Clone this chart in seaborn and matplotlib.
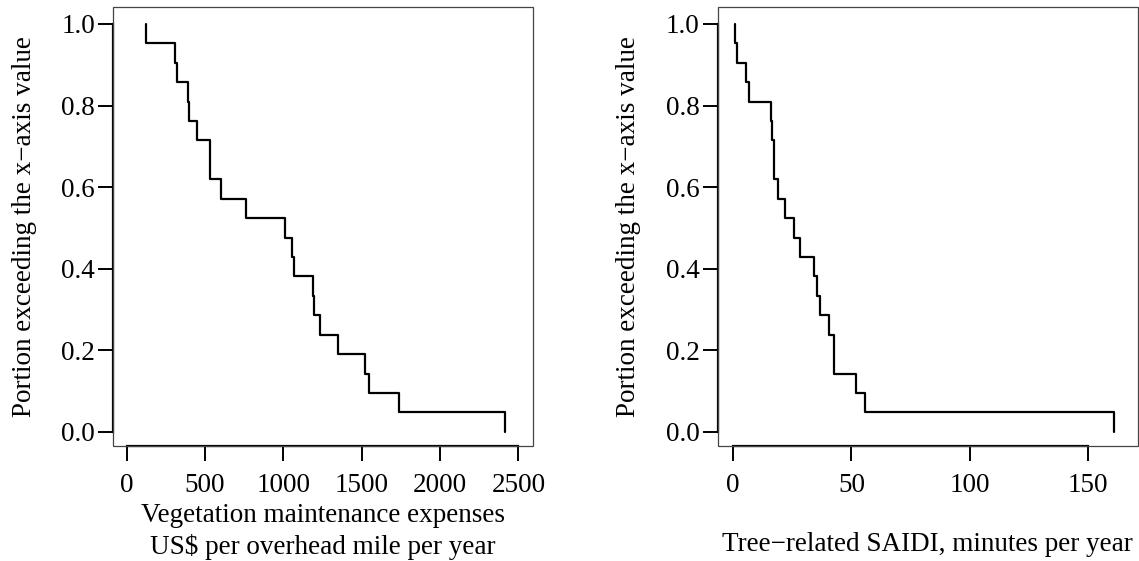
import matplotlib
matplotlib.use("Agg")
import matplotlib.pyplot as plt
import seaborn as sns
import pandas as pd
from matplotlib.patches import Rectangle

# Vegetation maintenance expenses, US$ per overhead mile per year (21 utilities)
expenses = [126, 311, 320, 394, 400, 447, 532, 534, 604, 762, 1011,
            1054, 1068, 1190, 1198, 1234, 1347, 1519, 1549, 1740, 2417]
# Tree-related SAIDI, minutes per year (same 21 utilities)
saidi = [0.7, 1.6, 5.5, 6.6, 16.0, 16.5, 17.3, 17.4, 19.0, 21.9, 25.6,
         28.1, 34.3, 35.3, 36.7, 40.5, 42.5, 42.6, 51.9, 55.8, 160.8]

expense_ticks = [0, 500, 1000, 1500, 2000, 2500]
saidi_ticks = [0, 50, 100, 150]
y_ticks = [0.0, 0.2, 0.4, 0.6, 0.8, 1.0]

ylabel = "Portion exceeding the x\u2212axis value"
xlabel_left = "Vegetation maintenance expenses\nUS$ per overhead mile per year"
xlabel_right = "Tree\u2212related SAIDI, minutes per year"

FS = 19.5

sns.set_theme(style="ticks")
plt.rcParams["font.family"] = ["Liberation Serif", "DejaVu Serif"]
plt.rcParams["font.size"] = FS
plt.rcParams["text.color"] = "black"
plt.rcParams["axes.labelcolor"] = "black"

fig = plt.figure(figsize=(11.39, 5.61), dpi=100)
ax1 = fig.add_axes([0.0992, 0.2041, 0.369, 0.783])
ax2 = fig.add_axes([0.6301, 0.2041, 0.369, 0.783])

panels = [
    (ax1, expenses, expense_ticks, (-87, 2595), xlabel_left, -0.194),
    (ax2, saidi, saidi_ticks, (-6.5, 171.1), xlabel_right, -0.2242),
]

for ax, values, xticks, xlim, xlabel, xlab_y in panels:
    df = pd.DataFrame({"value": values})
    sns.ecdfplot(data=df, x="value", complementary=True, ax=ax,
                 color="black", linewidth=1.6)
    ax.set_xlim(*xlim)
    ax.set_ylim(-0.036, 1.041)
    ax.set_xticks(xticks)
    ax.set_xticklabels([str(t) for t in xticks])
    ax.set_yticks(y_ticks)
    ax.set_yticklabels([f"{t:.1f}" for t in y_ticks])
    ax.tick_params(axis="both", direction="out", length=11, width=1.4,
                   color="black", labelsize=FS, labelcolor="black")
    ax.tick_params(axis="x", pad=8)
    ax.tick_params(axis="y", pad=2)

    # R-style axis lines spanning only the tick range, plus a thin frame
    for side in ("top", "right"):
        ax.spines[side].set_visible(False)
    ax.spines["left"].set_bounds(y_ticks[0], y_ticks[-1])
    ax.spines["bottom"].set_bounds(xticks[0], xticks[-1])
    for side in ("left", "bottom"):
        ax.spines[side].set_linewidth(1.6)
        ax.spines[side].set_color("black")
    ax.add_patch(Rectangle((0, 0), 1, 1, transform=ax.transAxes, fill=False,
                           lw=0.9, ec="#444444", clip_on=False, zorder=3))

    ax.set_xlabel(xlabel, fontsize=FS, linespacing=1.3, color="black")
    ax.xaxis.label.set_va("center")
    ax.xaxis.set_label_coords(0.5, xlab_y)
    ax.set_ylabel(ylabel, fontsize=FS, color="black")
    ax.yaxis.label.set_va("center")
    ax.yaxis.set_label_coords(-0.2115, 0.5)
    ax.grid(False)
    ax.set_facecolor("white")

fig.patch.set_facecolor("white")
fig.savefig("out.png", dpi=100)
